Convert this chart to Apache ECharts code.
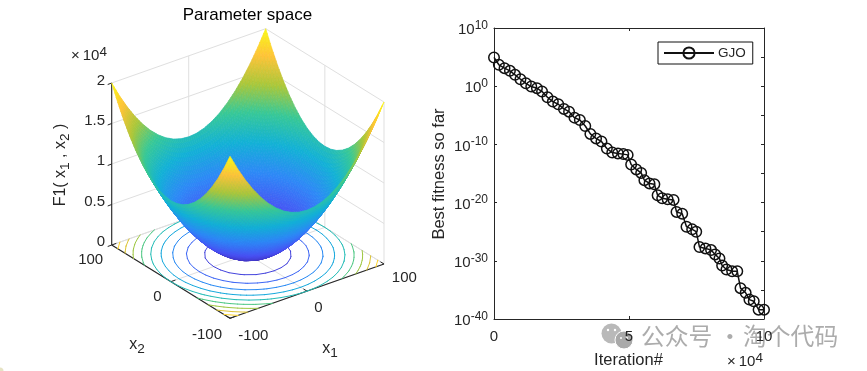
<!DOCTYPE html>
<html><head><meta charset="utf-8">
<style>html,body{margin:0;padding:0;background:#fff}#c{width:867px;height:371px}</style>
<script src="https://cdn.jsdelivr.net/npm/echarts@6/dist/echarts.min.js"></script>
</head><body><div id="c"></div>
<script>
// ---------- data ----------
const x1Values = [-100,-90,-80,-70,-60,-50,-40,-30,-20,-10,0,10,20,30,40,50,60,70,80,90,100];
const x2Values = x1Values;
const surfaceZ = [
[20000,18100,16400,14900,13600,12500,11600,10900,10400,10100,10000,10100,10400,10900,11600,12500,13600,14900,16400,18100,20000],
[18100,16200,14500,13000,11700,10600,9700,9000,8500,8200,8100,8200,8500,9000,9700,10600,11700,13000,14500,16200,18100],
[16400,14500,12800,11300,10000,8900,8000,7300,6800,6500,6400,6500,6800,7300,8000,8900,10000,11300,12800,14500,16400],
[14900,13000,11300,9800,8500,7400,6500,5800,5300,5000,4900,5000,5300,5800,6500,7400,8500,9800,11300,13000,14900],
[13600,11700,10000,8500,7200,6100,5200,4500,4000,3700,3600,3700,4000,4500,5200,6100,7200,8500,10000,11700,13600],
[12500,10600,8900,7400,6100,5000,4100,3400,2900,2600,2500,2600,2900,3400,4100,5000,6100,7400,8900,10600,12500],
[11600,9700,8000,6500,5200,4100,3200,2500,2000,1700,1600,1700,2000,2500,3200,4100,5200,6500,8000,9700,11600],
[10900,9000,7300,5800,4500,3400,2500,1800,1300,1000,900,1000,1300,1800,2500,3400,4500,5800,7300,9000,10900],
[10400,8500,6800,5300,4000,2900,2000,1300,800,500,400,500,800,1300,2000,2900,4000,5300,6800,8500,10400],
[10100,8200,6500,5000,3700,2600,1700,1000,500,200,100,200,500,1000,1700,2600,3700,5000,6500,8200,10100],
[10000,8100,6400,4900,3600,2500,1600,900,400,100,0,100,400,900,1600,2500,3600,4900,6400,8100,10000],
[10100,8200,6500,5000,3700,2600,1700,1000,500,200,100,200,500,1000,1700,2600,3700,5000,6500,8200,10100],
[10400,8500,6800,5300,4000,2900,2000,1300,800,500,400,500,800,1300,2000,2900,4000,5300,6800,8500,10400],
[10900,9000,7300,5800,4500,3400,2500,1800,1300,1000,900,1000,1300,1800,2500,3400,4500,5800,7300,9000,10900],
[11600,9700,8000,6500,5200,4100,3200,2500,2000,1700,1600,1700,2000,2500,3200,4100,5200,6500,8000,9700,11600],
[12500,10600,8900,7400,6100,5000,4100,3400,2900,2600,2500,2600,2900,3400,4100,5000,6100,7400,8900,10600,12500],
[13600,11700,10000,8500,7200,6100,5200,4500,4000,3700,3600,3700,4000,4500,5200,6100,7200,8500,10000,11700,13600],
[14900,13000,11300,9800,8500,7400,6500,5800,5300,5000,4900,5000,5300,5800,6500,7400,8500,9800,11300,13000,14900],
[16400,14500,12800,11300,10000,8900,8000,7300,6800,6500,6400,6500,6800,7300,8000,8900,10000,11300,12800,14500,16400],
[18100,16200,14500,13000,11700,10600,9700,9000,8500,8200,8100,8200,8500,9000,9700,10600,11700,13000,14500,16200,18100],
[20000,18100,16400,14900,13600,12500,11600,10900,10400,10100,10000,10100,10400,10900,11600,12500,13600,14900,16400,18100,20000]
];
const contourLevels = [2000,4000,6000,8000,10000,12000,14000,16000,18000];
const zTicks = [0,5000,10000,15000,20000];
const zTickLabels = ['0','0.5','1','1.5','2'];
const xyTicks = [-100,0,100];
const iterations = [1,1800,3900,5900,7800,9800,11800,13800,15900,17800,19800,21800,23800,25900,27800,29800,31800,33800,35700,37800,39800,41800,43800,45900,47900,49500,50800,52700,54500,55700,57600,59400,60600,62300,64300,66500,67600,69700,71300,73400,74900,76100,78300,80400,81900,83500,84500,86100,88200,90100,91300,93200,94600,96200,98000,100000];
const bestFitnessExp = [4.94,3.68,3.1,2.64,1.95,1.2,0.5,-0.06,-0.34,-0.92,-1.9,-2.64,-3.1,-3.9,-4.37,-5.4,-5.8,-6.84,-8.2,-8.97,-9.5,-10.7,-11.4,-11.55,-11.67,-11.8,-13.45,-14.3,-14.9,-16.15,-16.7,-16.85,-18.74,-19.25,-19.43,-19.54,-21.6,-21.9,-24.14,-24.6,-25,-27.64,-27.87,-28.16,-28.9,-29.6,-30.8,-31.5,-31.8,-31.8,-34.7,-35.5,-36.67,-36.95,-38.4,-38.4];
const parula = [[62,38,168],[72,82,244],[46,135,247],[18,177,214],[55,200,151],[171,199,57],[254,195,56],[249,251,21]];

// ---------- 3D view ----------
const FONT = '"Liberation Sans", Arial, sans-serif', INK = '#262626';
const W = 867, H = 371;
function project(x1, x2, z) {
  const a = (x1 + 100) / 200, b = (x2 + 100) / 200;
  return [230 + a * 154 - b * 118.3, 318.3 - a * 54.3 - b * 73.3 - z * 162 / 20000];
}
function parulaColor(t) {
  t = Math.max(0, Math.min(1, t)) * (parula.length - 1);
  const k = Math.min(parula.length - 2, Math.floor(t)), f = t - k;
  const c = parula[k].map((v, n) => Math.round(v + (parula[k + 1][n] - v) * f));
  return 'rgb(' + c.join(',') + ')';
}
const SUB = 4;
function renderCell(params, api) {
  const j = api.value(0), i = api.value(1), kids = [];
  const pt = (u, v, z) => api.coord(project(
    x1Values[j] + (x1Values[j + 1] - x1Values[j]) * u,
    x2Values[i] + (x2Values[i + 1] - x2Values[i]) * v, z));
  const zAt = (u, v) => (surfaceZ[i][j] * (1 - u) * (1 - v) + surfaceZ[i][j + 1] * u * (1 - v)
    + surfaceZ[i + 1][j] * (1 - u) * v + surfaceZ[i + 1][j + 1] * u * v);
  for (let q = SUB - 1; q >= 0; q--) for (let p = SUB - 1; p >= 0; p--) {
    const u0 = p / SUB, u1 = (p + 1) / SUB, v0 = q / SUB, v1 = (q + 1) / SUB;
    const z00 = zAt(u0, v0), z10 = zAt(u1, v0), z11 = zAt(u1, v1), z01 = zAt(u0, v1);
    const col = parulaColor((z00 + z10 + z11 + z01) / 4 / 20000);
    kids.push({ type: 'polygon',
      shape: { points: [pt(u0, v0, z00), pt(u1, v0, z10), pt(u1, v1, z11), pt(u0, v1, z01)] },
      style: { fill: col, stroke: col, lineWidth: 0.7 } });
  }
  return { type: 'group', children: kids };
}
function renderContour(params, api) {
  const L = contourLevels[api.value(0)], kids = [], col = parulaColor(L / 20000);
  for (let i = 0; i < x2Values.length - 1; i++) for (let j = 0; j < x1Values.length - 1; j++) {
    const cs = [[j, i], [j + 1, i], [j + 1, i + 1], [j, i + 1]], pts = [];
    for (let e = 0; e < 4; e++) {
      const A = cs[e], B = cs[(e + 1) % 4], za = surfaceZ[A[1]][A[0]], zb = surfaceZ[B[1]][B[0]];
      if ((za >= L) !== (zb >= L)) {
        const f = (L - za) / (zb - za);
        pts.push(api.coord(project(
          x1Values[A[0]] + (x1Values[B[0]] - x1Values[A[0]]) * f,
          x2Values[A[1]] + (x2Values[B[1]] - x2Values[A[1]]) * f, 0)));
      }
    }
    for (let n = 0; n + 1 < pts.length; n += 2)
      kids.push({ type: 'line', shape: { x1: pts[n][0], y1: pts[n][1], x2: pts[n + 1][0], y2: pts[n + 1][1] },
        style: { stroke: col, lineWidth: 1, lineCap: 'round' } });
  }
  return { type: 'group', children: kids };
}
function renderBox(params, api) {
  const kids = [];
  const seg = (a, b, stroke, w) => {
    const p = api.coord(project(a[0], a[1], a[2])), q = api.coord(project(b[0], b[1], b[2]));
    kids.push({ type: 'line', shape: { x1: p[0], y1: p[1], x2: q[0], y2: q[1] }, style: { stroke, lineWidth: w || 1 } });
  };
  const G = '#dfdfdf', zTop = zTicks[zTicks.length - 1];
  zTicks.forEach(z => { seg([-100, 100, z], [100, 100, z], G); seg([100, 100, z], [100, -100, z], G); });
  xyTicks.forEach(t => {
    seg([t, 100, 0], [t, 100, zTop], G); seg([100, t, 0], [100, t, zTop], G);
    seg([t, -100, 0], [t, 100, 0], G); seg([-100, t, 0], [100, t, 0], G);
  });
  seg([-100, 100, 0], [-100, 100, zTop], INK, 1.1);
  seg([-100, 100, 0], [-100, -100, 0], INK, 1.1);
  seg([-100, -100, 0], [100, -100, 0], INK, 1.1);
  xyTicks.forEach(t => { seg([t, -100, 0], [t, -94, 0], INK); seg([-100, t, 0], [-94, t, 0], INK); });
  zTicks.forEach(z => {
    const p = api.coord(project(-100, 100, z));
    kids.push({ type: 'line', shape: { x1: p[0], y1: p[1], x2: p[0] - 4, y2: p[1] + 1.5 }, style: { stroke: INK, lineWidth: 1 } });
  });
  return { type: 'group', children: kids };
}
const cells = [];
for (let i = x2Values.length - 2; i >= 0; i--) for (let j = x1Values.length - 2; j >= 0; j--) cells.push([j, i]);

// ---------- text helpers ----------
function txt(x, y, text, size, extra, rich, rotation) {
  return { type: 'text', x, y, rotation: rotation || 0, z: 20, silent: true,
    style: Object.assign({ text, font: size + 'px ' + FONT, fill: INK, align: 'center', verticalAlign: 'middle', rich }, extra || {}) };
}
const subRich = s => ({
  b: { fontSize: s, fontFamily: FONT, color: INK },
  s: { fontSize: s * 0.85, fontFamily: FONT, color: INK, padding: [8, 0, 0, 0] }
});
const supRich = s => ({
  x: { fontSize: s, fontFamily: FONT, color: '#777', padding: [0, 3, 0, 0] },
  b: { fontSize: s, fontFamily: FONT, color: INK },
  s: { fontSize: s * 0.9, fontFamily: FONT, color: INK, padding: [0, 0, 8, 0] }
});
const TS = 15;
const texts = [
  txt(247.5, 15, 'Parameter space', 17, { fill: '#000' }),
  txt(71, 56, '{x|×}{b|10}{s|4}', TS, { align: 'left' }, supRich(TS)),
  txt(105, 81, zTickLabels[4], TS, { align: 'right' }),
  txt(105, 121, zTickLabels[3], TS, { align: 'right' }),
  txt(105, 161, zTickLabels[2], TS, { align: 'right' }),
  txt(105, 202, zTickLabels[1], TS, { align: 'right' }),
  txt(105, 242, zTickLabels[0], TS, { align: 'right' }),
  txt(90.7, 260, '100', TS), txt(157.3, 296.5, '0', TS), txt(207, 334.5, '-100', TS),
  txt(253.3, 335.5, '-100', TS), txt(318.3, 307.5, '0', TS), txt(404.3, 278.3, '100', TS),
  txt(137, 345, '{b|x}{s|2}', 16, {}, subRich(16)),
  txt(330, 349, '{b|x}{s|1}', 16, {}, subRich(16)),
  txt(61, 165, '{b|F1( x}{s|1}{b| , x}{s|2}{b| )}', 16, {}, subRich(16), Math.PI / 2),
  txt(439, 174, 'Best fitness so far', 16.5, {}, null, Math.PI / 2),
  txt(628.5, 360, 'Iteration#', 16.5),
  txt(727, 362, '{x|×}{b|10}{s|4}', TS, { align: 'left' }, supRich(TS))
];
const WM = '#b9b9b9', CJK = '23.8px "Noto Sans CJK SC"', WMT = 'rgba(140,140,140,0.72)';
const wmText = (x, text) => ({ type: 'text', z: 18, silent: true, x, y: 336,
  style: { text, font: CJK, fill: WMT, align: 'left', verticalAlign: 'middle' } });
const watermark = [
  { type: 'circle', z: 10, silent: true, shape: { cx: 611.5, cy: 333.5, r: 10 }, style: { fill: WM } },
  { type: 'circle', z: 11, silent: true, shape: { cx: 624, cy: 340, r: 9 }, style: { fill: '#a9a9a9', stroke: '#fff', lineWidth: 1 } },
  { type: 'circle', z: 12, silent: true, shape: { cx: 608, cy: 330, r: 1.2 }, style: { fill: '#fff' } },
  { type: 'circle', z: 12, silent: true, shape: { cx: 615, cy: 330, r: 1.2 }, style: { fill: '#fff' } },
  { type: 'circle', z: 12, silent: true, shape: { cx: 621, cy: 338, r: 1 }, style: { fill: '#fff' } },
  { type: 'circle', z: 12, silent: true, shape: { cx: 627, cy: 338, r: 1 }, style: { fill: '#fff' } },
  wmText(641, '公众号'), wmText(718, '·'), wmText(743, '淘个代码'),
  { type: 'circle', z: 12, silent: true, shape: { cx: 0, cy: 371, r: 3.5 }, style: { fill: '#e6e3c4' } }
];

// ---------- option ----------
const fmtY = v => '{b|10}{s|' + v + '}';
const yBase = { type: 'value', min: -40, max: 10, gridIndex: 1, splitLine: { show: false } };
const xBase = { type: 'value', min: 0, max: 100000, interval: 50000, gridIndex: 1, splitLine: { show: false } };
const axisInk = { onZero: false, lineStyle: { color: INK, width: 1 } };
const chart = echarts.init(document.getElementById('c'), null, { renderer: 'canvas' });
chart.setOption({
  animation: false,
  backgroundColor: '#fff',
  grid: [
    { left: 0, top: 0, width: W, height: H, show: false },
    { left: 494, top: 28, width: 270, height: 291, show: false }
  ],
  xAxis: [
    { type: 'value', min: 0, max: W, show: false, gridIndex: 0 },
    Object.assign({}, xBase, { position: 'bottom', z: 40, axisLine: axisInk,
      axisTick: { inside: true, length: 3, lineStyle: { color: INK } },
      axisLabel: { margin: 10, fontSize: TS, fontFamily: FONT, color: INK, formatter: v => String(v / 10000), hideOverlap: false } }),
    Object.assign({}, xBase, { position: 'top', axisLine: axisInk,
      axisTick: { inside: true, length: 3, lineStyle: { color: INK } }, axisLabel: { show: false } })
  ],
  yAxis: [
    { type: 'value', min: 0, max: H, inverse: true, show: false, gridIndex: 0 },
    Object.assign({}, yBase, { position: 'left', interval: 10, axisLine: Object.assign({ show: true }, axisInk),
      axisTick: { inside: true, length: 3, lineStyle: { color: INK } },
      axisLabel: { margin: 6, formatter: fmtY, rich: {
        b: { fontSize: TS, fontFamily: FONT, color: INK, padding: [4, 0, 0, 0] },
        s: { fontSize: 12, fontFamily: FONT, color: INK, padding: [0, 0, 5, 0] } } } }),
    Object.assign({}, yBase, { position: 'right', interval: 5, axisLine: Object.assign({ show: true }, axisInk),
      axisTick: { inside: true, length: 3, lineStyle: { color: INK } }, axisLabel: { show: false } })
  ],
  legend: {
    show: true, left: 658, top: 42, orient: 'horizontal',
    borderColor: '#111', borderWidth: 1, padding: [4, 7, 4, 5], itemWidth: 50, itemHeight: 14, itemGap: 0,
    textStyle: { fontFamily: FONT, fontSize: 13.5, color: INK, padding: [0, 0, 0, -1] },
    data: ['GJO']
  },
  graphic: texts.concat(watermark),
  series: [
    { type: 'custom', xAxisIndex: 0, yAxisIndex: 0, silent: true, clip: false, z: 1, renderItem: renderBox, data: [[0, 0]] },
    { type: 'custom', xAxisIndex: 0, yAxisIndex: 0, silent: true, clip: false, z: 2, renderItem: renderContour, data: contourLevels.map((l, n) => [n, l]) },
    { type: 'custom', xAxisIndex: 0, yAxisIndex: 0, silent: true, clip: false, z: 3, renderItem: renderCell, data: cells, progressive: 0 },
    { type: 'line', name: 'GJO', xAxisIndex: 1, yAxisIndex: 1, z: 5, silent: true,
      data: iterations.map((x, n) => [x, bestFitnessExp[n]]),
      symbol: 'circle', symbolSize: 10.5, showSymbol: true, showAllSymbol: true,
      lineStyle: { color: '#111', width: 1.5 },
      itemStyle: { color: 'rgba(255,255,255,0)', borderColor: '#111', borderWidth: 1.5 } }
  ]
});
</script></body></html>
